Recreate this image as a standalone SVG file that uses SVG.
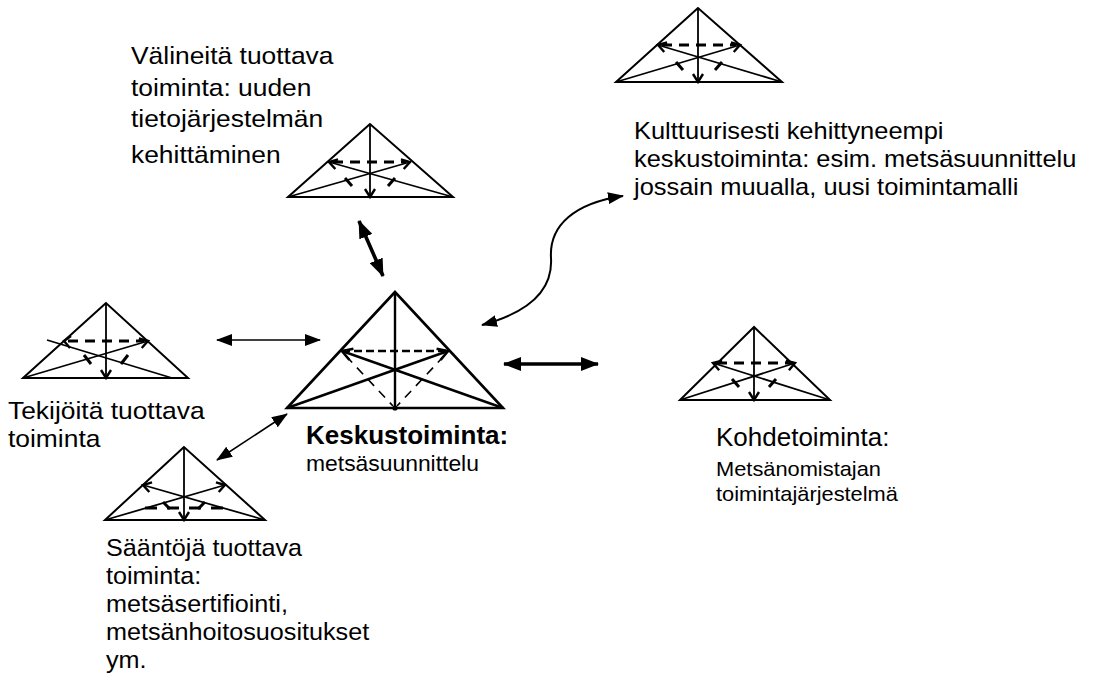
<svg xmlns="http://www.w3.org/2000/svg" width="1108" height="691" viewBox="0 0 1108 691">
  <style>
    text { font-family: "Liberation Sans", Arial, sans-serif; font-size: 24px; fill: #000; }
    .big { font-size: 25px; }
    .mid { font-size: 22px; }
    .small { font-size: 21px; }
    .bold { font-weight: bold; }
    .tri { fill: none; stroke: #000; stroke-width: 2; stroke-linejoin: miter; }
    .tri-c { fill: none; stroke: #000; stroke-width: 2.6; }
    .ln { stroke: #000; stroke-width: 1.8; fill: none; }
    .ln-c { stroke: #000; stroke-width: 2.4; fill: none; }
    .dash { stroke: #000; stroke-width: 3; stroke-dasharray: 10 7; fill: none; }
    .dash-c { stroke: #000; stroke-width: 2.6; stroke-dasharray: 8 4; fill: none; }
    .dash-thin { stroke: #000; stroke-width: 1.6; stroke-dasharray: 9 7; fill: none; }
    .tick { stroke: #000; stroke-width: 3; fill: none; }
    .conn { stroke: #000; stroke-width: 1.6; fill: none; }
    .conn-thick { stroke: #000; stroke-width: 3.6; fill: none; }
  </style>
  <defs>
    <marker id="chev" markerWidth="12" markerHeight="12" refX="9" refY="5" orient="auto" markerUnits="userSpaceOnUse" overflow="visible">
      <path d="M1,0 L9,5 L1,10" fill="none" stroke="#000" stroke-width="2.4"/>
    </marker>
    <marker id="chevC" markerWidth="14" markerHeight="14" refX="11" refY="6" orient="auto" markerUnits="userSpaceOnUse" overflow="visible">
      <path d="M1,0 L11,6 L1,12" fill="none" stroke="#000" stroke-width="2.6"/>
    </marker>
    <marker id="head" markerWidth="16" markerHeight="12" refX="15" refY="6" orient="auto-start-reverse" markerUnits="userSpaceOnUse">
      <path d="M0,0 L16,6 L0,12 z" fill="#000"/>
    </marker>
    <marker id="headT" markerWidth="18" markerHeight="14" refX="17" refY="7" orient="auto-start-reverse" markerUnits="userSpaceOnUse">
      <path d="M0,0 L18,7 L0,14 z" fill="#000"/>
    </marker>
  </defs>

  <!-- Central activity -->
  <g id="central">
    <polygon class="tri-c" points="395,292 287,408 503,408"/>
    <line class="ln-c" x1="395" y1="292" x2="395" y2="408"/>
    <circle cx="395" cy="408" r="2.6" fill="#000"/>
    <line class="dash-c" x1="342" y1="351" x2="448" y2="351"/>
    <line class="ln-c" x1="503" y1="408" x2="342" y2="351" marker-end="url(#chevC)"/>
    <line class="ln-c" x1="287" y1="408" x2="448" y2="351" marker-end="url(#chevC)"/>
    <line class="dash-thin" x1="346" y1="356" x2="393" y2="406"/>
    <line class="dash-thin" x1="444" y1="356" x2="397" y2="406"/>
    <g transform="translate(306,0) scale(1.04,1)">
      <text class="big bold" x="0" y="444">Keskustoiminta:</text>
      <text class="mid" x="0" y="471">metsäsuunnittelu</text>
    </g>
  </g>

  <!-- Instrument-producing activity -->
  <g id="tools">
    <polygon class="tri" points="370,124 288,197 453,197"/>
    <line class="ln" x1="370" y1="124" x2="370" y2="197" marker-end="url(#chev)"/>
    <line class="dash" x1="333" y1="162" x2="406" y2="162"/>
    <line class="ln" x1="453" y1="197" x2="329" y2="162" marker-end="url(#chev)"/>
    <line class="ln" x1="288" y1="197" x2="410" y2="162" marker-end="url(#chev)"/>
    <line class="tick" x1="345" y1="178" x2="352" y2="186"/>
    <line class="tick" x1="395" y1="178" x2="388" y2="186"/>
    <g transform="translate(131,0) scale(1.1,1)">
      <text x="0" y="64">Välineitä tuottava</text>
      <text x="0" y="96">toiminta: uuden</text>
      <text x="0" y="127">tietojärjestelmän</text>
      <text x="0" y="163">kehittäminen</text>
    </g>
  </g>

  <!-- Culturally more advanced central activity -->
  <g id="advanced">
    <polygon class="tri" points="698,8 616,82 782,82"/>
    <line class="ln" x1="698" y1="8" x2="698" y2="82" marker-end="url(#chev)"/>
    <line class="dash" x1="662" y1="45" x2="736" y2="45"/>
    <line class="ln" x1="782" y1="82" x2="658" y2="45" marker-end="url(#chev)"/>
    <line class="ln" x1="616" y1="82" x2="740" y2="45" marker-end="url(#chev)"/>
    <line class="tick" x1="676" y1="62" x2="683" y2="70"/>
    <line class="tick" x1="722" y1="62" x2="715" y2="70"/>
    <g transform="translate(634,0) scale(1.06,1)">
      <text x="0" y="139">Kulttuurisesti kehittyneempi</text>
      <text x="0" y="167">keskustoiminta: esim. metsäsuunnittelu</text>
      <text x="0" y="195">jossain muualla, uusi toimintamalli</text>
    </g>
  </g>

  <!-- Subject-producing activity -->
  <g id="subjects">
    <polygon class="tri" points="106,303 23,378 188,378"/>
    <line class="ln" x1="106" y1="303" x2="106" y2="378" marker-end="url(#chev)"/>
    <line class="dash" x1="68" y1="341" x2="144" y2="341"/>
    <line class="ln" x1="172" y1="378" x2="47" y2="340"/>
    <path class="ln" d="M71,336 L64,341 L70,348" style="stroke-width:2.4"/>
    <line class="ln" x1="23" y1="378" x2="148" y2="341" marker-end="url(#chev)"/>
    <line class="tick" x1="84" y1="355" x2="91" y2="364"/>
    <line class="tick" x1="128" y1="355" x2="121" y2="364"/>
    <g transform="translate(8,0) scale(1.1,1)">
      <text x="0" y="419">Tekijöitä tuottava</text>
      <text x="0" y="447">toiminta</text>
    </g>
  </g>

  <!-- Object activity -->
  <g id="object">
    <polygon class="tri" points="754,327 680,400 830,400"/>
    <line class="ln" x1="754" y1="327" x2="754" y2="400" marker-end="url(#chev)"/>
    <line class="dash" x1="717" y1="363" x2="791" y2="363"/>
    <line class="ln" x1="830" y1="400" x2="713" y2="363" marker-end="url(#chev)"/>
    <line class="ln" x1="680" y1="400" x2="795" y2="363" marker-end="url(#chev)"/>
    <line class="tick" x1="732" y1="379" x2="739" y2="387"/>
    <line class="tick" x1="776" y1="379" x2="769" y2="387"/>
    <g transform="translate(716,0) scale(1.04,1)">
      <text class="big" x="0" y="446">Kohdetoiminta:</text>
      <text class="small" x="0" y="476">Metsänomistajan</text>
      <text class="small" x="0" y="501">toimintajärjestelmä</text>
    </g>
  </g>

  <!-- Rule-producing activity -->
  <g id="rules">
    <polygon class="tri" points="184,447 105,520 265,520"/>
    <line class="ln" x1="184" y1="447" x2="184" y2="520" marker-end="url(#chev)"/>
    <line class="ln" x1="265" y1="520" x2="143" y2="485" marker-end="url(#chev)"/>
    <line class="ln" x1="105" y1="520" x2="225" y2="485" marker-end="url(#chev)"/>
    <line class="dash" x1="145" y1="508" x2="223" y2="508" style="stroke-dasharray:12 10"/>
    <line class="tick" x1="163" y1="502" x2="170" y2="509"/>
    <line class="tick" x1="205" y1="502" x2="198" y2="509"/>
    <g transform="translate(106,0) scale(1.05,1)">
      <text x="0" y="556">Sääntöjä tuottava</text>
      <text x="0" y="584">toiminta:</text>
      <text x="0" y="612">metsäsertifiointi,</text>
      <text x="0" y="640">metsänhoitosuositukset</text>
      <text x="0" y="668">ym.</text>
    </g>
  </g>

  <!-- Connectors between activities -->
  <g id="connectors">
    <line class="conn" x1="217" y1="340" x2="320" y2="340" marker-start="url(#head)" marker-end="url(#head)"/>
    <line class="conn" x1="217" y1="460" x2="287" y2="414" marker-start="url(#head)" marker-end="url(#head)"/>
    <line class="conn-thick" x1="359" y1="221" x2="383" y2="276" marker-start="url(#headT)" marker-end="url(#headT)"/>
    <line class="conn-thick" x1="504" y1="364" x2="598" y2="364" marker-start="url(#headT)" marker-end="url(#headT)"/>
    <path class="conn" style="stroke-width:2" d="M482,325 C530,312 553,290 551,258 C549,225 575,203 623,196" marker-start="url(#head)" marker-end="url(#head)"/>
  </g>
</svg>
